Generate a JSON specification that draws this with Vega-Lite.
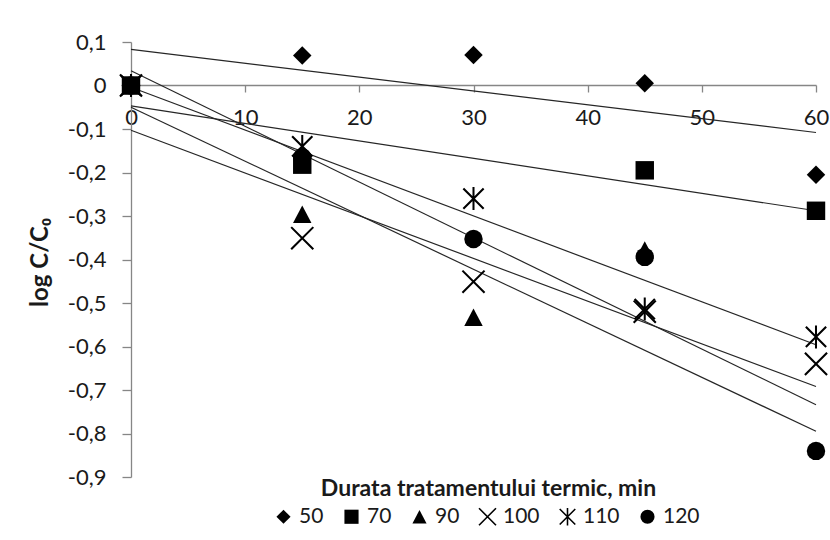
{
  "$schema": "https://vega.github.io/schema/vega-lite/v6.json",
  "width": 685,
  "height": 435,
  "autosize": {"type": "none"},
  "padding": {"left": 131, "top": 42, "right": 14, "bottom": 63},
  "background": "white",
  "config": {"view": {"stroke": null}, "font": "Lato"},
  "datasets": {
    "points": [
      {"series": "50", "t": 0, "v": 0},
      {"series": "50", "t": 15, "v": 0.069},
      {"series": "50", "t": 30, "v": 0.07},
      {"series": "50", "t": 45, "v": 0.005},
      {"series": "50", "t": 60, "v": -0.205},
      {"series": "70", "t": 0, "v": 0},
      {"series": "70", "t": 15, "v": -0.182},
      {"series": "70", "t": 45, "v": -0.195},
      {"series": "70", "t": 60, "v": -0.288},
      {"series": "90", "t": 0, "v": 0},
      {"series": "90", "t": 15, "v": -0.296},
      {"series": "90", "t": 30, "v": -0.533},
      {"series": "90", "t": 45, "v": -0.378},
      {"series": "100", "t": 0, "v": 0},
      {"series": "100", "t": 15, "v": -0.351},
      {"series": "100", "t": 30, "v": -0.451},
      {"series": "100", "t": 45, "v": -0.52},
      {"series": "100", "t": 60, "v": -0.64},
      {"series": "110", "t": 0, "v": 0},
      {"series": "110", "t": 15, "v": -0.14},
      {"series": "110", "t": 30, "v": -0.26},
      {"series": "110", "t": 45, "v": -0.514},
      {"series": "110", "t": 60, "v": -0.578},
      {"series": "120", "t": 0, "v": 0},
      {"series": "120", "t": 15, "v": -0.165},
      {"series": "120", "t": 30, "v": -0.353},
      {"series": "120", "t": 45, "v": -0.394},
      {"series": "120", "t": 60, "v": -0.84}
    ],
    "trend": [
      {"series": "50", "t": 0, "v": 0.083},
      {"series": "50", "t": 60, "v": -0.108},
      {"series": "70", "t": 0, "v": -0.047},
      {"series": "70", "t": 60, "v": -0.288},
      {"series": "90", "t": 0, "v": -0.05},
      {"series": "90", "t": 60, "v": -0.795},
      {"series": "100", "t": 0, "v": -0.103},
      {"series": "100", "t": 60, "v": -0.692},
      {"series": "110", "t": 0, "v": -0.004},
      {"series": "110", "t": 60, "v": -0.596},
      {"series": "120", "t": 0, "v": 0.034},
      {"series": "120", "t": 60, "v": -0.734}
    ]
  },
  "encoding": {
    "x": {
      "field": "t",
      "type": "quantitative",
      "scale": {"domain": [0, 60], "nice": false, "zero": false},
      "axis": {
        "orient": "bottom",
        "offset": -392,
        "values": [0, 10, 20, 30, 40, 50, 60],
        "grid": false,
        "domainColor": "#868686",
        "domainWidth": 1.3,
        "tickColor": "#868686",
        "tickWidth": 1.3,
        "tickSize": 7,
        "labelFontSize": 22,
        "labelColor": "#1a1a1a",
        "labelPadding": 15,
        "labelFlush": false,
        "labelOverlap": false,
        "title": "Durata tratamentului termic, min",
        "titleFontSize": 23,
        "titleFontWeight": "bold",
        "titleColor": "#1a1a1a",
        "titleX": 357,
        "titleY": 403,
        "titleAlign": "center",
        "titleBaseline": "middle"
      }
    },
    "y": {
      "field": "v",
      "type": "quantitative",
      "scale": {"domain": [-0.9, 0.1], "nice": false, "zero": false},
      "axis": {
        "values": [-0.9, -0.8, -0.7, -0.6, -0.5, -0.4, -0.3, -0.2, -0.1, 0, 0.1],
        "grid": false,
        "domainColor": "#868686",
        "domainWidth": 1.3,
        "tickColor": "#868686",
        "tickWidth": 1.3,
        "tickSize": 9,
        "labelFontSize": 22,
        "labelColor": "#1a1a1a",
        "labelPadding": 16,
        "labelFlush": false,
        "labelOverlap": false,
        "labelExpr": "abs(datum.value) < 1e-9 ? '0' : replace(replace(format(datum.value, '.1f'), '.', ','), '\u2212', '-')",
        "title": "log C/C\u2080",
        "titleFontSize": 24,
        "titleFontWeight": "bold",
        "titleColor": "#1a1a1a",
        "titleX": -91,
        "titleY": 220,
        "titleAngle": -90,
        "titleAlign": "center",
        "titleBaseline": "middle"
      }
    }
  },
  "layer": [
    {
      "data": {"name": "trend"},
      "mark": {"type": "line", "color": "#262626", "strokeWidth": 1.2},
      "encoding": {"detail": {"field": "series", "type": "nominal"}}
    },
    {
      "data": {"name": "points"},
      "mark": {"type": "point", "filled": true, "size": 340, "color": "black", "opacity": 1},
      "encoding": {
        "shape": {
          "field": "series",
          "type": "nominal",
          "sort": ["50", "70", "90", "100", "110", "120"],
          "scale": {
            "domain": ["50", "70", "90", "100", "110", "120"],
            "range": [
              "diamond",
              "square",
              "M0,-0.95L1,0.95L-1,0.95Z",
              "M-1.12,-1.28L1.28,1.12L1.12,1.28L-1.28,-1.12ZM-1.12,1.28L-1.28,1.12L1.12,-1.28L1.28,-1.12Z",
              "M-1.02,-1.18L1.18,1.02L1.02,1.18L-1.18,-1.02ZM-1.02,1.18L-1.18,1.02L1.02,-1.18L1.18,-1.02ZM-0.11,-1.25L0.11,-1.25L0.11,1.25L-0.11,1.25Z",
              "circle"
            ]
          },
          "legend": {
            "orient": "none",
            "legendX": 142,
            "legendY": 464,
            "direction": "horizontal",
            "title": null,
            "labelFontSize": 21,
            "labelColor": "#1a1a1a",
            "symbolSize": 200,
            "symbolFillColor": "black",
            "symbolStrokeWidth": 0,
            "labelOffset": 5,
            "columnPadding": 17
          }
        }
      }
    }
  ]
}
